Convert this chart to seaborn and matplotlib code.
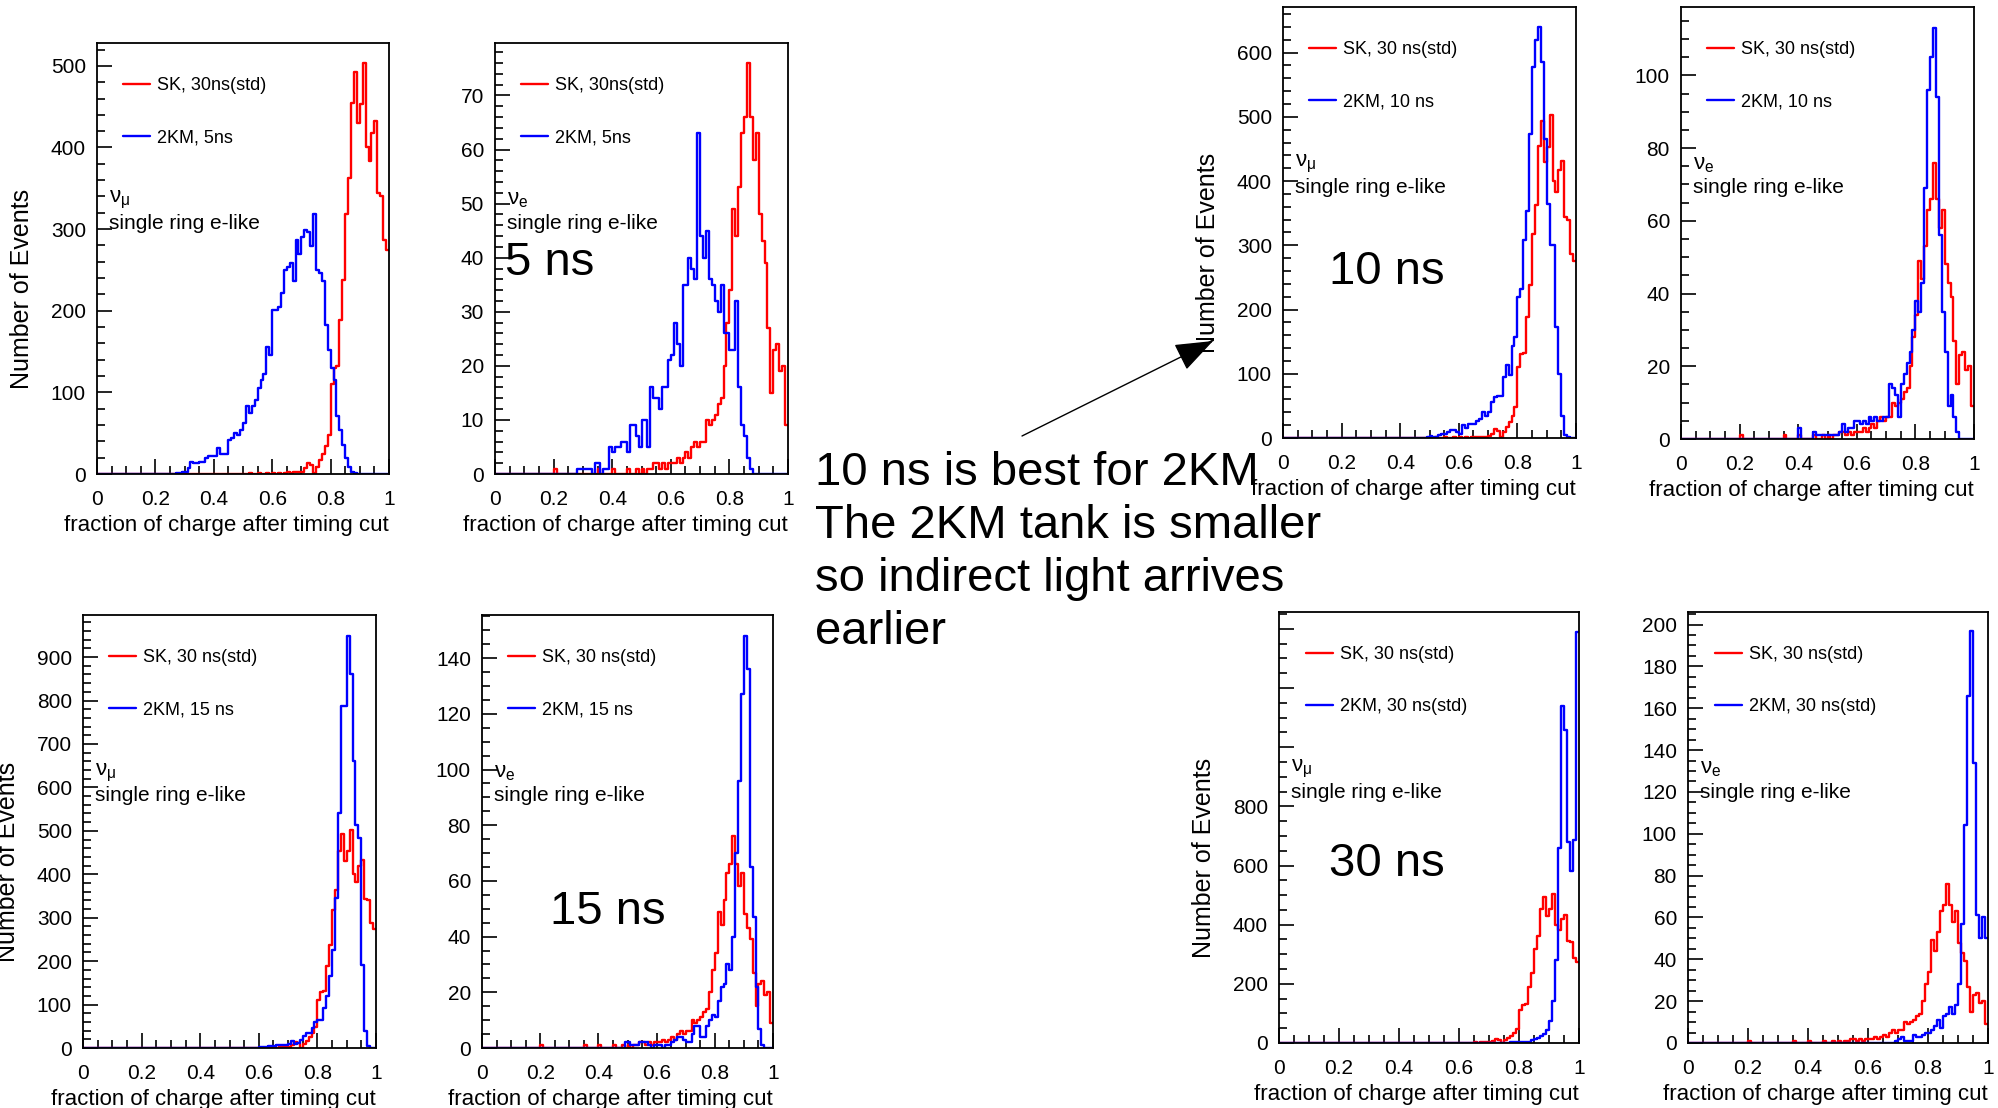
import numpy as np
import pandas as pd
import matplotlib
matplotlib.use("Agg")
import matplotlib.pyplot as plt
import seaborn as sns
from matplotlib.ticker import MultipleLocator, FuncFormatter

# ---------------- data (100 bins of 0.01 on "fraction of charge after timing cut") -------------
n_bins = 100
x_range = (0.0, 1.0)

# SK, 30 ns (std) - nu_mu sample, single ring e-like (same in all nu_mu panels)
sk_numu = [0] * 50 + [
    0, 0, 1, 0, 0, 1, 0, 0, 1, 0,
    1, 0, 1, 0, 1, 2, 1, 2, 2, 2,
    3, 7, 14, 11, 1, 9, 17, 25, 34, 48,
    110, 130, 132, 189, 238, 318, 363, 454, 493, 430,
    453, 503, 400, 383, 418, 432, 344, 340, 287, 275]

# SK, 30 ns (std) - nu_e sample (same in all nu_e panels)
sk_nue = [0] * 20 + [
    1, 0, 0, 0, 0, 0, 0, 0, 0, 0,
    0, 0, 0, 0, 0, 1, 0, 0, 0, 0,
    1, 0, 0, 0, 0, 1, 0, 0, 1, 0,
    1, 0, 1, 1, 2, 2, 1, 2, 1, 2,
    2, 2, 3, 2, 3, 4, 3, 5, 6, 5,
    6, 6, 10, 9, 10, 11, 13, 14, 20, 28,
    34, 49, 44, 53, 63, 66, 76, 66, 58, 63,
    48, 43, 39, 27, 15, 23, 24, 19, 20, 9]

# 2KM, 5 ns
km5_numu = [0] * 20 + [
    0, 0, 0, 0, 0, 0, 0, 1, 1, 3,
    3, 7, 15, 13, 13, 15, 15, 20, 22, 22,
    22, 32, 24, 25, 25, 42, 44, 50, 48, 54,
    62, 83, 75, 83, 91, 105, 115, 122, 156, 146,
    201, 201, 205, 222, 250, 253, 258, 236, 287, 270,
    290, 299, 297, 279, 318, 250, 246, 236, 183, 152,
    130, 115, 71, 54, 36, 20, 9, 3, 1, 0,
    0, 0, 0, 0, 0, 0, 0, 0, 0, 0]
km5_nue = [0] * 20 + [
    0, 0, 0, 0, 0, 0, 0, 0, 1, 1,
    1, 1, 1, 0, 2, 2, 0, 1, 1, 5,
    4, 5, 5, 6, 6, 4, 9, 9, 7, 5,
    10, 10, 5, 16, 14, 14, 12, 16, 16, 21,
    22, 28, 24, 20, 35, 35, 40, 38, 36, 63,
    44, 40, 45, 36, 35, 32, 30, 35, 26, 26,
    23, 23, 32, 16, 9, 7, 3, 1, 0, 0,
    0, 0, 0, 0, 0, 0, 0, 0, 0, 0]

# 2KM, 10 ns
km10_numu = [0] * 40 + [
    0, 0, 0, 0, 0, 0, 0, 0, 0, 1,
    3, 2, 2, 5, 7, 7, 9, 12, 12, 9,
    7, 20, 15, 22, 22, 22, 27, 30, 40, 35,
    40, 56, 64, 66, 66, 95, 113, 98, 144, 157,
    220, 232, 308, 354, 474, 578, 619, 640, 585, 466,
    365, 300, 300, 173, 100, 35, 4, 1, 0, 0]
km10_nue = [0] * 40 + [
    3, 0, 0, 0, 0, 2, 1, 1, 1, 1,
    1, 1, 1, 1, 2, 4, 2, 3, 3, 5,
    5, 4, 5, 4, 6, 5, 6, 5, 5, 6,
    6, 15, 14, 12, 6, 15, 18, 21, 24, 30,
    38, 35, 43, 69, 96, 105, 113, 94, 56, 35,
    24, 9, 12, 6, 2, 0, 0, 0, 0, 0]

# 2KM, 15 ns
km15_numu = [0] * 60 + [
    3, 3, 3, 4, 5, 5, 8, 8, 8, 8,
    10, 15, 10, 12, 19, 27, 35, 35, 46, 61,
    65, 65, 92, 119, 165, 226, 345, 541, 787, 787,
    948, 860, 660, 514, 483, 192, 38, 4, 0, 0]
km15_nue = [0] * 40 + [
    0, 0, 0, 0, 0, 0, 0, 0, 0, 2,
    2, 1, 1, 1, 2, 2, 2, 1, 0, 1,
    1, 1, 0, 1, 1, 2, 3, 4, 4, 3,
    2, 2, 5, 8, 8, 4, 4, 8, 10, 12,
    11, 17, 22, 23, 30, 28, 40, 70, 96, 127,
    148, 136, 65, 47, 22, 7, 1, 0, 0, 0]

# 2KM, 30 ns (std)
km30_numu = [0] * 70 + [
    0, 0, 0, 0, 0, 1, 1, 2, 2, 2,
    2, 2, 3, 5, 11, 12, 17, 22, 30, 45,
    73, 141, 282, 659, 1138, 1059, 680, 580, 686, 1391]
km30_nue = [0] * 60 + [
    0, 0, 0, 0, 0, 0, 0, 0, 0, 1,
    2, 3, 1, 1, 1, 4, 3, 3, 4, 5,
    5, 6, 8, 11, 7, 13, 14, 17, 14, 18,
    28, 57, 104, 166, 197, 134, 61, 50, 60, 50]

x_ticks = [0, 0.2, 0.4, 0.6, 0.8, 1.0]
x_ticklabels = ["0", "0.2", "0.4", "0.6", "0.8", "1"]

# ---------------- style -------------
sns.set_theme(style="ticks")
plt.rcParams['font.family'] = ['Liberation Sans', 'DejaVu Sans']
plt.rcParams['mathtext.fontset'] = 'custom'
plt.rcParams['mathtext.rm'] = 'Liberation Sans'
plt.rcParams['mathtext.it'] = 'Liberation Sans:italic'
plt.rcParams['mathtext.bf'] = 'Liberation Sans:bold'
plt.rcParams['axes.edgecolor'] = 'black'
plt.rcParams['xtick.color'] = 'black'
plt.rcParams['ytick.color'] = 'black'
plt.rcParams['text.color'] = 'black'
plt.rcParams['axes.labelcolor'] = 'black'

W, H = 1998, 1108
fig = plt.figure(figsize=(W / 100, H / 100), dpi=100)
fig.patch.set_facecolor('white')

RED = '#ff0000'
BLUE = '#0000ff'
edges = np.linspace(x_range[0], x_range[1], n_bins + 1)
centers = (edges[:-1] + edges[1:]) / 2


def make_axes(x0, y0, x1, y1):
    return fig.add_axes([x0 / W, 1 - y1 / H, (x1 - x0) / W, (y1 - y0) / H])


def panel(box, sk, km, sk_lab, km_lab, flavour, ytop, ymaj, ymin, ylabel,
          leg_top, big=None, ylab_max=None):
    ax = make_axes(*box)
    df_sk = pd.DataFrame({'x': centers, 'w': np.asarray(sk, dtype=float)})
    df_km = pd.DataFrame({'x': centers, 'w': np.asarray(km, dtype=float)})
    sns.histplot(data=df_sk, x='x', weights='w', bins=n_bins, binrange=x_range,
                 element='step', fill=False, color=RED, linewidth=1.7, ax=ax,
                 label=sk_lab)
    sns.histplot(data=df_km, x='x', weights='w', bins=n_bins, binrange=x_range,
                 element='step', fill=False, color=BLUE, linewidth=1.7, ax=ax,
                 label=km_lab)
    ax.set_xlim(0, 1)
    ax.set_ylim(0, ytop)
    ax.set_xticks(x_ticks)
    ax.set_xticklabels(x_ticklabels)
    ax.xaxis.set_minor_locator(MultipleLocator(0.05))
    ax.yaxis.set_major_locator(MultipleLocator(ymaj))
    ax.yaxis.set_minor_locator(MultipleLocator(ymin))
    if ylab_max is not None:
        ax.yaxis.set_major_formatter(
            FuncFormatter(lambda v, p: f"{v:.0f}" if v <= ylab_max + 1e-6 else ""))
    else:
        ax.yaxis.set_major_formatter(FuncFormatter(lambda v, p: f"{v:.0f}"))
    ax.tick_params(which='both', direction='in', top=False, right=False,
                   bottom=True, left=True, width=1.2, color='black')
    ax.tick_params(which='major', length=11, labelsize=15)
    ax.tick_params(axis='y', which='major', pad=8)
    ax.tick_params(axis='x', which='major', pad=11.5)
    ax.tick_params(which='minor', length=6)
    for s in ax.spines.values():
        s.set_visible(True)
        s.set_linewidth(1.3)
        s.set_color('black')
    ax.set_xlabel('fraction of charge after timing cut', fontsize=16, loc='right',
                  labelpad=4)
    if ylabel:
        wpx = box[2] - box[0]
        ax.set_ylabel('Number of Events', fontsize=18)
        ax.yaxis.set_label_coords(-63 / wpx, 0.43)
    else:
        ax.set_ylabel('')
    ax.legend(loc='upper left', bbox_to_anchor=(0.089, leg_top), frameon=False,
              fontsize=13, handlelength=1.5, handletextpad=0.4, labelspacing=1.96,
              borderpad=0, borderaxespad=0)
    nu = r'$\mathrm{\nu}_{\mathrm{\mu}}$' if flavour == 'mu' else r'$\mathrm{\nu}_{\mathrm{e}}$'
    ax.text(0.04, 0.636, nu, transform=ax.transAxes, fontsize=16, va='center', ha='left')
    ax.text(0.04, 0.582, 'single ring e-like', transform=ax.transAxes, fontsize=15,
            va='center', ha='left')
    if big is not None:
        ax.text(big[1], big[2], big[0], transform=ax.transAxes, fontsize=34,
                va='center', ha='left')
    return ax


LEG_TOP = 0.921
panel((97, 43, 389, 474), sk_numu, km5_numu, 'SK, 30ns(std)', '2KM, 5ns', 'mu',
      528, 100, 20, True, LEG_TOP)
panel((495, 43, 788, 474), sk_nue, km5_nue, 'SK, 30ns(std)', '2KM, 5ns', 'e',
      79.7, 10, 2, False, LEG_TOP, big=('5 ns', 0.034, 0.49))
ax3 = panel((1283, 7, 1576, 438), sk_numu, km10_numu, 'SK, 30 ns(std)', '2KM, 10 ns', 'mu',
            671, 100, 20, True, LEG_TOP, big=('10 ns', 0.157, 0.384))
panel((1681, 7, 1974, 439), sk_nue, km10_nue, 'SK, 30 ns(std)', '2KM, 10 ns', 'e',
      118.8, 20, 5, False, LEG_TOP)
panel((83, 615, 376, 1048), sk_numu, km15_numu, 'SK, 30 ns(std)', '2KM, 15 ns', 'mu',
      997, 100, 20, True, LEG_TOP)
panel((482, 615, 773, 1048), sk_nue, km15_nue, 'SK, 30 ns(std)', '2KM, 15 ns', 'e',
      155.5, 20, 5, False, LEG_TOP, big=('15 ns', 0.234, 0.313))
panel((1279, 612, 1579, 1043), sk_numu, km30_numu, 'SK, 30 ns(std)', '2KM, 30 ns(std)', 'mu',
      1457, 200, 50, True, LEG_TOP, big=('30 ns', 0.167, 0.415), ylab_max=800)
panel((1688, 612, 1988, 1043), sk_nue, km30_nue, 'SK, 30 ns(std)', '2KM, 30 ns(std)', 'e',
      206, 20, 5, False, LEG_TOP)

fig.text(815 / W, 1 - 451 / H,
         '10 ns is best for 2KM\nThe 2KM tank is smaller\nso indirect light arrives\nearlier',
         fontsize=34, va='top', ha='left', linespacing=1.26)

ax3.annotate('', xy=(1213, H - 341), xycoords='figure pixels',
             xytext=(1022, H - 436), textcoords='figure pixels',
             arrowprops=dict(arrowstyle='-|>,head_length=1.2,head_width=0.45',
                             color='black', lw=1.0, mutation_scale=20,
                             shrinkA=0, shrinkB=0),
             annotation_clip=False)

fig.savefig('out.png', dpi=100, facecolor='white')
